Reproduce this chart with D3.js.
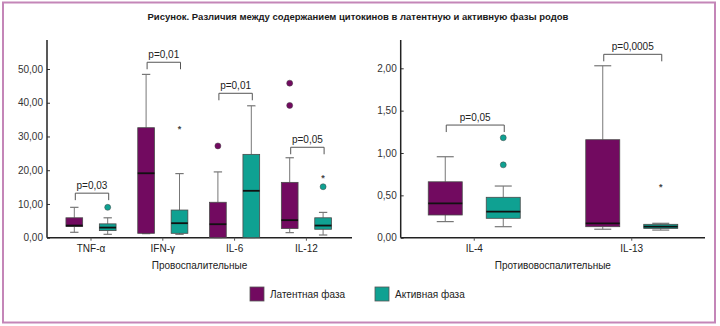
<!DOCTYPE html>
<html><head><meta charset="utf-8">
<script src="https://cdn.jsdelivr.net/npm/d3@7"></script>
<style>
html,body{margin:0;padding:0;background:#fff;}
svg{display:block;font-family:"Liberation Sans",Arial,sans-serif;}
</style></head>
<body><svg id="chart" width="720" height="326"></svg>
<script>
// ---------------- data ----------------
const title = "Рисунок. Различия между содержанием цитокинов в латентную и активную фазы родов";
const seriesNames = ["Латентная фаза", "Активная фаза"];
const groupNames = ["Провоспалительные", "Противовоспалительные"];

const proCategories = ["TNF-α", "IFN-γ", "IL-6", "IL-12"];
const proTicks = [0, 10, 20, 30, 40, 50];
// [min, q1, median, q3, max]
const proLatent = [[1.6, 3.3, 3.6, 5.9, 9.0], [1.2, 1.3, 19.1, 32.6, 48.4], [0, 0, 4.0, 10.5, 19.5], [1.5, 2.7, 5.2, 16.4, 23.7]];
const proActive = [[1.0, 2.1, 3.0, 4.1, 5.9], [1.0, 1.3, 4.3, 8.2, 19.0], [0, 0, 13.9, 24.7, 39.1], [0.8, 2.5, 3.6, 5.9, 7.5]];
const proLatentOutliers = [[], [], [27.2], [39.2, 45.8]];
const proActiveOutliers = [[9.0], [], [], [15.1]];
const proLatentExtremes = [[], [], [], []];
const proActiveExtremes = [[], [32.4], [], [18.1]];
const proPValues = ["p=0,03", "p=0,01", "p=0,01", "p=0,05"];
const proBracketLevels = [13.2, 52.0, 42.8, 26.8];

const antiCategories = ["IL-4", "IL-13"];
const antiTicks = [0, 0.5, 1.0, 1.5, 2.0];
const antiLatent = [[0.19, 0.268, 0.406, 0.66, 0.956], [0.10, 0.13, 0.17, 1.157, 2.03]];
const antiActive = [[0.13, 0.229, 0.307, 0.477, 0.61], [0.09, 0.11, 0.13, 0.158, 0.17]];
const antiLatentOutliers = [[], []];
const antiActiveOutliers = [[0.86, 1.18], []];
const antiLatentExtremes = [[], []];
const antiActiveExtremes = [[], [0.61]];
const antiPValues = ["p=0,05", "p=0,0005"];
const antiBracketLevels = [1.33, 2.165];

// ---------------- style ----------------
const colors = ["#720a60", "#0fa192"];
const fmt = d3.formatLocale({decimal: ",", thousands: " ", grouping: [3], currency: ["", ""]}).format(".2f");

const svg = d3.select("#chart");

// frame
svg.append("rect").attr("x", 3).attr("y", 2.5).attr("width", 712).attr("height", 320)
  .attr("fill", "none").attr("stroke", "#c486b8").attr("stroke-width", 2);

svg.append("text").attr("x", 358).attr("y", 20).attr("text-anchor", "middle")
  .attr("font-size", 9.5).attr("font-weight", "bold").attr("fill", "#1a1a1a").text(title);

function panel(cfg) {
  const g = svg.append("g");
  const x = d3.scaleBand().domain(cfg.categories).range(cfg.xRange);
  const y = d3.scaleLinear().domain([0, cfg.refMax]).range([cfg.yBottom, cfg.yRef]);
  const half = cfg.boxW / 2;

  // y axis
  const ya = g.append("g").attr("transform", `translate(${cfg.xAxis},0)`)
    .call(d3.axisLeft(y).tickValues(cfg.ticks).tickSize(-3).tickPadding(4).tickFormat(fmt));
  ya.select(".domain").remove();
  ya.selectAll(".tick line").attr("stroke", "#333");
  ya.selectAll(".tick text").attr("font-size", 10).attr("fill", "#333")
    .attr("font-family", "Liberation Sans, Arial, sans-serif");
  g.append("line").attr("x1", cfg.xAxis).attr("x2", cfg.xAxis).attr("y1", cfg.yBottom).attr("y2", cfg.yTop)
    .attr("stroke", "#222").attr("stroke-width", 1.5);
  // x axis
  g.append("line").attr("x1", cfg.xAxis).attr("x2", cfg.xEnd).attr("y1", cfg.yBottom).attr("y2", cfg.yBottom)
    .attr("stroke", "#222").attr("stroke-width", 1.5);
  cfg.categories.forEach(c => {
    const cx = x(c) + x.bandwidth() / 2;
    g.append("line").attr("x1", cx).attr("x2", cx).attr("y1", cfg.yBottom).attr("y2", cfg.yBottom + 3).attr("stroke", "#555");
    g.append("text").attr("x", cx).attr("y", cfg.yBottom + 14).attr("text-anchor", "middle")
      .attr("font-size", 10).attr("fill", "#222").text(c);
  });
  g.append("text").attr("x", (cfg.xAxis + cfg.xEnd) / 2).attr("y", cfg.yBottom + 31).attr("text-anchor", "middle")
    .attr("font-size", 10).attr("fill", "#222").text(cfg.group);

  const series = [
    {stats: cfg.latent, out: cfg.latentOut, ext: cfg.latentExt, off: -cfg.offset, color: colors[0]},
    {stats: cfg.active, out: cfg.activeOut, ext: cfg.activeExt, off: cfg.offset, color: colors[1]}
  ];
  series.forEach(s => {
    s.stats.forEach((st, i) => {
      const cx = x(cfg.categories[i]) + x.bandwidth() / 2 + s.off;
      const [mn, q1, md, q3, mx] = st;
      // whiskers
      g.append("line").attr("x1", cx).attr("x2", cx).attr("y1", y(q3)).attr("y2", y(mx)).attr("stroke", "#777");
      g.append("line").attr("x1", cx).attr("x2", cx).attr("y1", y(q1)).attr("y2", y(mn)).attr("stroke", "#777");
      g.append("line").attr("x1", cx - half / 2).attr("x2", cx + half / 2).attr("y1", y(mx)).attr("y2", y(mx)).attr("stroke", "#777").attr("stroke-width", 1.2);
      g.append("line").attr("x1", cx - half / 2).attr("x2", cx + half / 2).attr("y1", y(mn)).attr("y2", y(mn)).attr("stroke", "#777").attr("stroke-width", 1.2);
      // box
      g.append("rect").attr("x", cx - half).attr("width", cfg.boxW)
        .attr("y", y(q3)).attr("height", Math.max(0.5, y(q1) - y(q3)))
        .attr("fill", s.color).attr("stroke", "#4a4a4a").attr("stroke-width", 0.8);
      g.append("line").attr("x1", cx - half).attr("x2", cx + half).attr("y1", y(md)).attr("y2", y(md))
        .attr("stroke", "#111").attr("stroke-width", 1.8);
      s.out[i].forEach(v => {
        g.append("circle").attr("cx", cx).attr("cy", y(v)).attr("r", 3)
          .attr("fill", s.color).attr("stroke", "#444").attr("stroke-width", 0.5);
      });
      s.ext[i].forEach(v => {
        g.append("text").attr("x", cx).attr("y", y(v) + 4).attr("text-anchor", "middle")
          .attr("font-size", 9).attr("font-weight", "bold").attr("fill", "#444").text("*");
      });
    });
  });

  // significance brackets
  cfg.categories.forEach((c, i) => {
    const cx = x(c) + x.bandwidth() / 2;
    const x1 = cx - cfg.offset + 1, x2 = cx + cfg.offset + 1;
    const yy = y(cfg.levels[i]);
    g.append("path").attr("d", `M${x1},${yy + 7}V${yy}H${x2}V${yy + 7}`)
      .attr("fill", "none").attr("stroke", "#555").attr("stroke-width", 1);
    g.append("text").attr("x", (x1 + x2) / 2).attr("y", yy - 4).attr("text-anchor", "middle")
      .attr("font-size", 10).attr("fill", "#222").text(cfg.pvals[i]);
  });
}

panel({
  categories: proCategories, ticks: proTicks, refMax: 50, yRef: 69, yBottom: 237.7, yTop: 40,
  xRange: [55.1, 342.3], xAxis: 47, xEnd: 352, boxW: 16.7, offset: 16.7,
  latent: proLatent, active: proActive, latentOut: proLatentOutliers, activeOut: proActiveOutliers,
  latentExt: proLatentExtremes, activeExt: proActiveExtremes,
  pvals: proPValues, levels: proBracketLevels, group: groupNames[0]
});
panel({
  categories: antiCategories, ticks: antiTicks, refMax: 2, yRef: 68.3, yBottom: 237.7, yTop: 40,
  xRange: [395.5, 710.5], xAxis: 400.7, xEnd: 705, boxW: 34, offset: 29,
  latent: antiLatent, active: antiActive, latentOut: antiLatentOutliers, activeOut: antiActiveOutliers,
  latentExt: antiLatentExtremes, activeExt: antiActiveExtremes,
  pvals: antiPValues, levels: antiBracketLevels, group: groupNames[1]
});

// legend
const legendX = [250, 375];
seriesNames.forEach((n, i) => {
  svg.append("rect").attr("x", legendX[i]).attr("y", 287).attr("width", 14).attr("height", 14)
    .attr("fill", colors[i]).attr("stroke", "#555").attr("stroke-width", 0.8);
  svg.append("text").attr("x", legendX[i] + 20).attr("y", 298).attr("font-size", 10).attr("fill", "#222").text(n);
});
</script></body></html>
